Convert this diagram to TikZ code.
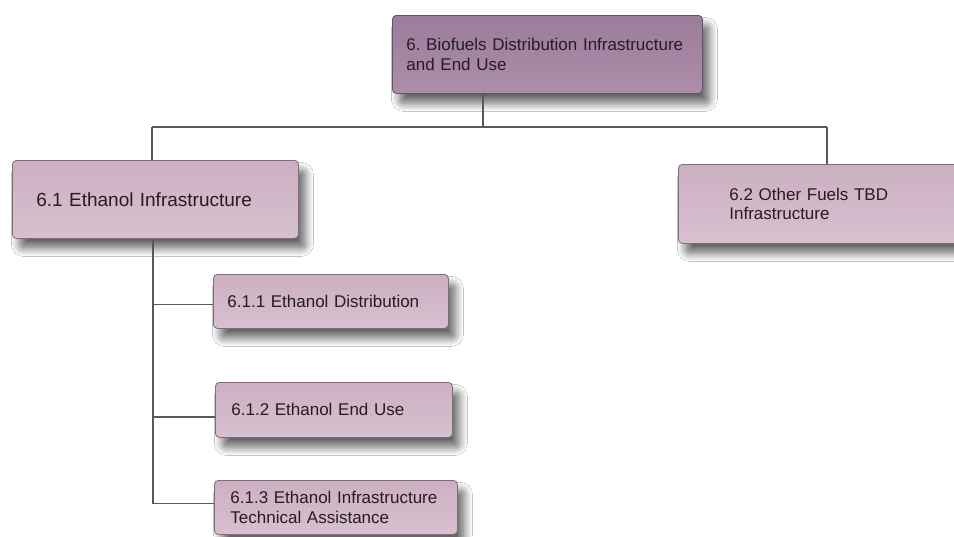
\documentclass[tikz,border=0pt]{standalone}
\usepackage{fontspec}
\setmainfont{Liberation Sans}
\usetikzlibrary{shadows.blur,calc}
\frenchspacing
\definecolor{topfill}{RGB}{155,124,155}
\definecolor{topfillB}{RGB}{172,142,170}
\definecolor{kidfill}{RGB}{204,176,194}
\definecolor{kidfillB}{RGB}{215,192,207}
\definecolor{topedge}{RGB}{100,82,98}
\definecolor{kidedge}{RGB}{128,108,122}
\definecolor{txtcol}{RGB}{38,28,36}
\definecolor{linecol}{RGB}{90,88,90}
\tikzset{
  wbsbox/.style={rectangle, rounded corners=4pt, anchor=north west, align=left,
    text=txtcol, line width=0.8pt, inner ysep=0pt,
    font=\fontsize{17}{19.5}\selectfont,
    blur shadow={shadow xshift=7pt, shadow yshift=-10pt, shadow blur radius=8pt,
      shadow blur steps=12, shadow opacity=60}},
  topbox/.style={wbsbox, draw=topedge, top color=topfill, bottom color=topfillB},
  kidbox/.style={wbsbox, draw=kidedge, top color=kidfill, bottom color=kidfillB},
  conn/.style={draw=linecol, line width=1.4pt}
}
\begin{document}
\begin{tikzpicture}[x=1pt,y=-1pt]
\useasboundingbox (0,0) rectangle (954,536);
\fill[white] (0,0) rectangle (954,536);

\node[topbox, minimum width=310pt, minimum height=78pt, inner xsep=14pt, text width=282pt] (top) at (392,15)
  {6. Biofuels Distribution Infrastructure\\and End Use};
\node[kidbox, minimum width=286pt, minimum height=78pt, inner xsep=24pt, text width=238pt,
  font=\fontsize{19}{22}\selectfont] (e61) at (12,160) {6.1 Ethanol Infrastructure};
\node[kidbox, minimum width=290pt, minimum height=79pt, inner xsep=51pt, text width=188pt] (e62) at (678,164)
  {6.2 Other Fuels TBD\\Infrastructure};
\node[kidbox, minimum width=235pt, minimum height=54pt, inner xsep=14pt, text width=207pt] (e611) at (213,274)
  {6.1.1 Ethanol Distribution};
\node[kidbox, minimum width=237pt, minimum height=55pt, inner xsep=16pt, text width=205pt] (e612) at (215,382)
  {6.1.2 Ethanol End Use};
\node[kidbox, minimum width=243pt, minimum height=54pt, inner xsep=16pt, text width=211pt] (e613) at (214,480)
  {6.1.3 Ethanol Infrastructure\\Technical Assistance};

\coordinate (jT) at (483,127);
\coordinate (jL) at (152,127);
\coordinate (jR) at (827,127);
\coordinate (sp) at (153,0);

\draw[conn] (top.south -| jT) -- (jT);
\draw[conn] (jL) -- (jR);
\draw[conn] (jL) -- (e61.north -| jL);
\draw[conn] (jR) -- (e62.north -| jR);
\draw[conn] (e61.south -| sp) |- ($(e611.west)+(0,3)$);
\draw[conn] (e61.south -| sp) |- ($(e612.west)+(0,7)$);
\draw[conn] (e61.south -| sp) |- ($(e613.west)+(0,-4)$);
\end{tikzpicture}
\end{document}
